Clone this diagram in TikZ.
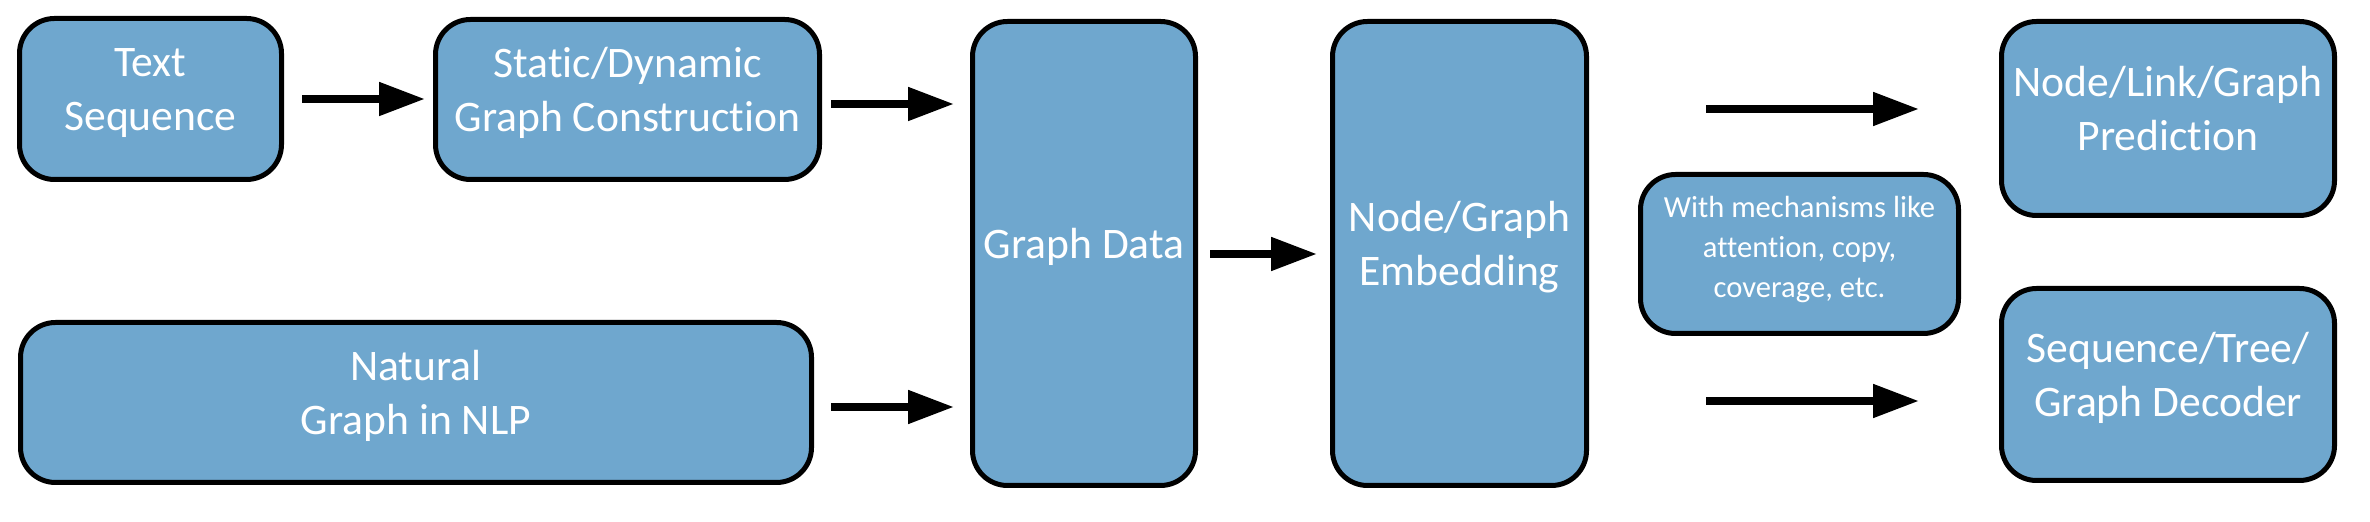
\documentclass[tikz,border=0pt]{standalone}
\usepackage{fontspec}
\setmainfont{Carlito}[Ligatures=NoCommon]
\usetikzlibrary{arrows.meta}
\definecolor{boxfill}{RGB}{111,167,206}
\newcommand\ls{\rule[-0.415\baselineskip]{0pt}{\baselineskip}}
\begin{document}
\begin{tikzpicture}[x=0.5pt,y=-0.5pt,
  blk/.style={draw=black, line width=2.5pt, fill=boxfill, rounded corners=17.5pt,
    text=white, align=center, inner sep=0pt,
    font=\fontsize{21.8pt}{27pt}\selectfont},
  small/.style={font=\fontsize{15.3pt}{20pt}\selectfont},
  arr/.style={line width=4pt, -{Triangle[length=23pt,width=16pt]}}
]
\useasboundingbox (0,0) rectangle (2370,522);
\node[blk, minimum width=131pt, minimum height=80.5pt] (ts) at (150.5,99) {\ls Text\\Sequence\ls};
\node[blk, minimum width=192pt, minimum height=80pt] (sd) at (627.5,99.5) {\ls Static/Dynamic\\Graph Construction\ls};
\node[blk, minimum width=395.5pt, minimum height=80pt] (nat) at (416,402.5) {\ls Natural\\Graph in NLP\ls};
\node[blk, minimum width=111.5pt, minimum height=232pt] (gd) at (1084,253.5) {\ls Graph Data\ls};
\node[blk, minimum width=127pt, minimum height=232pt] (emb) at (1459.5,253.5) {\ls Node/Graph\\Embedding\ls};
\node[blk, small, minimum width=159pt, minimum height=79.5pt] (mech) at (1799.5,254) {\ls With mechanisms like\\attention, copy,\\coverage, etc.\ls};
\node[blk, minimum width=166.5pt, minimum height=97pt] (pred) at (2168,118.5) {\ls Node/Link/Graph\\Prediction\ls};
\node[blk, minimum width=166.5pt, minimum height=96pt] (dec) at (2168,384.5) {\ls Sequence/Tree/\\Graph Decoder\ls};

\draw[arr] ([shift={(18,0)}]ts.east) -- ([shift={(-8,0)}]ts.east -| sd.west);
\draw[arr] ([shift={(9,4.5)}]sd.east) -- ([shift={(-16,4.5)}]sd.east -| gd.west);
\draw[arr] ([shift={(17,4.5)}]nat.east) -- ([shift={(-16,4.5)}]nat.east -| gd.west);
\draw[arr] ([shift={(12,0.5)}]gd.east) -- ([shift={(-13,0.5)}]gd.east -| emb.west);
\draw[arr] ([shift={(117,-9.5)}]emb.east |- pred.west) -- ([shift={(-80,-9.5)}]pred.west);
\draw[arr] ([shift={(117,16.5)}]emb.east |- dec.west) -- ([shift={(-80,16.5)}]dec.west);
\end{tikzpicture}
\end{document}
